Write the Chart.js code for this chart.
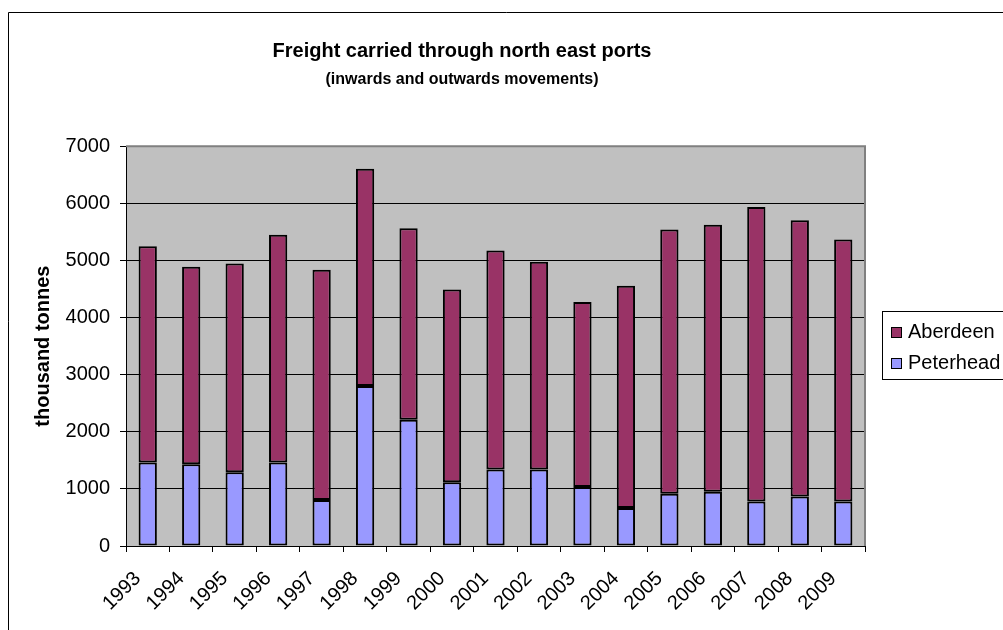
<!DOCTYPE html>
<html>
<head>
<meta charset="utf-8">
<script src="https://cdn.jsdelivr.net/npm/chart.js@4.4.1/dist/chart.umd.min.js"></script>
<style>
  html, body { margin: 0; padding: 0; background: #fff; overflow: hidden; }
  #wrap { width: 1003px; height: 630px; }
</style>
</head>
<body>
<div id="wrap"><canvas id="myChart" width="1003" height="630"></canvas></div>
<script>
// chart data (thousand tonnes)
const years = ['1993', '1994', '1995', '1996', '1997', '1998', '1999', '2000', '2001',
               '2002', '2003', '2004', '2005', '2006', '2007', '2008', '2009'];
const peterhead = [1460, 1430, 1290, 1460, 805, 2800, 2210, 1115, 1340,
                   1340, 1035, 665, 915, 950, 780, 865, 780];
const aberdeen = [3790, 3460, 3655, 3990, 4030, 3805, 3355, 3375, 3835,
                  3635, 3235, 3890, 4625, 4675, 5155, 4840, 4585];
const yTicks = [0, 1000, 2000, 3000, 4000, 5000, 6000, 7000];

const FONT = '"Liberation Sans", Arial, sans-serif';
Chart.defaults.font.family = FONT;
Chart.defaults.color = '#000';

// grey plot background, frame round the whole chart, boxed legend
const excelLook = {
    id: 'excelLook',
    afterLayout(chart) {
        // centre title + subtitle over the chart frame, not the canvas
        chart.boxes.forEach(b => {
            if (b.position === 'top' && b.options && b.options.text !== undefined) {
                b.left = 0; b.right = 924; b.width = 924;
            }
        });
    },
    beforeDraw(chart) {
        const { ctx, chartArea: a } = chart;
        ctx.save();
        ctx.fillStyle = '#C0C0C0';
        ctx.fillRect(a.left, a.top, a.right - a.left, a.bottom - a.top);
        ctx.restore();
    },
    afterDraw(chart) {
        const { ctx, chartArea: a } = chart;
        ctx.save();
        // plot area border (top/right grey)
        ctx.strokeStyle = '#808080';
        ctx.lineWidth = 2;
        ctx.beginPath();
        ctx.moveTo(a.left, a.top);
        ctx.lineTo(a.right, a.top);
        ctx.lineTo(a.right, a.bottom);
        ctx.stroke();
        // outer chart frame
        ctx.strokeStyle = '#000';
        ctx.lineWidth = 1;
        ctx.beginPath();
        ctx.moveTo(8.5, 640);
        ctx.lineTo(8.5, 12.5);
        ctx.lineTo(1010, 12.5);
        ctx.stroke();
        // legend
        const lx = 882.5, ly = 311.5;
        ctx.fillStyle = '#fff';
        ctx.fillRect(lx, ly, 140, 68);
        ctx.strokeRect(lx, ly, 140, 68);
        ctx.font = '20px ' + FONT;
        ctx.textBaseline = 'middle';
        chart.data.datasets.slice().reverse().forEach((ds, i) => {
            const cy = 332 + i * 31;
            ctx.fillStyle = ds.backgroundColor;
            ctx.fillRect(891, cy - 5, 11, 11);
            ctx.strokeStyle = '#000';
            ctx.strokeRect(891.5, cy - 4.5, 10, 10);
            ctx.fillStyle = '#000';
            ctx.fillText(ds.label, 908, cy);
        });
        ctx.restore();
    }
};

const ctx = document.getElementById('myChart').getContext('2d');
const myChart = new Chart(ctx, {
    type: 'bar',
    data: {
        labels: years,
        datasets: [
            {
                label: 'Peterhead',
                data: peterhead,
                backgroundColor: '#9999FF',
                borderColor: '#000',
                borderWidth: 2,
                borderSkipped: false
            },
            {
                label: 'Aberdeen',
                data: aberdeen,
                backgroundColor: '#993366',
                borderColor: '#000',
                borderWidth: 2,
                borderSkipped: false
            }
        ]
    },
    options: {
        responsive: false,
        animation: false,
        layout: { padding: { left: 10, top: 20, right: 138, bottom: 0 } },
        datasets: { bar: { categoryPercentage: 1, barPercentage: 0.42 } },
        plugins: {
            legend: { display: false },
            tooltip: { enabled: false },
            title: {
                display: true,
                text: 'Freight carried through north east ports',
                font: { size: 20, weight: 'bold' },
                color: '#000',
                padding: { top: 19, bottom: 0 }
            },
            subtitle: {
                display: true,
                text: '(inwards and outwards movements)',
                font: { size: 16, weight: 'bold' },
                color: '#000',
                padding: { top: 7, bottom: 57 }
            }
        },
        scales: {
            x: {
                stacked: true,
                grid: { offset: true, drawOnChartArea: false, drawTicks: true, tickLength: 6, color: '#000' },
                border: { color: '#000', width: 1 },
                ticks: { font: { size: 20 }, color: '#000', minRotation: 45, maxRotation: 45, autoSkip: false, padding: 15, labelOffset: -10 },
                afterFit: s => { s.height = 84; }
            },
            y: {
                stacked: true,
                min: 0,
                max: 7000,
                afterBuildTicks: s => { s.ticks = yTicks.map(v => ({ value: v })); },
                grid: { color: '#000', tickLength: 6 },
                border: { color: '#000', width: 1 },
                ticks: { font: { size: 20 }, color: '#000', padding: 10, callback: v => String(v) },
                title: {
                    display: true,
                    text: 'thousand tonnes',
                    font: { size: 20, weight: 'bold' },
                    color: '#000',
                    padding: { top: 21, bottom: 0 }
                },
                afterFit: s => { s.width = 116; }
            }
        }
    },
    plugins: [excelLook]
});
</script>
</body>
</html>
